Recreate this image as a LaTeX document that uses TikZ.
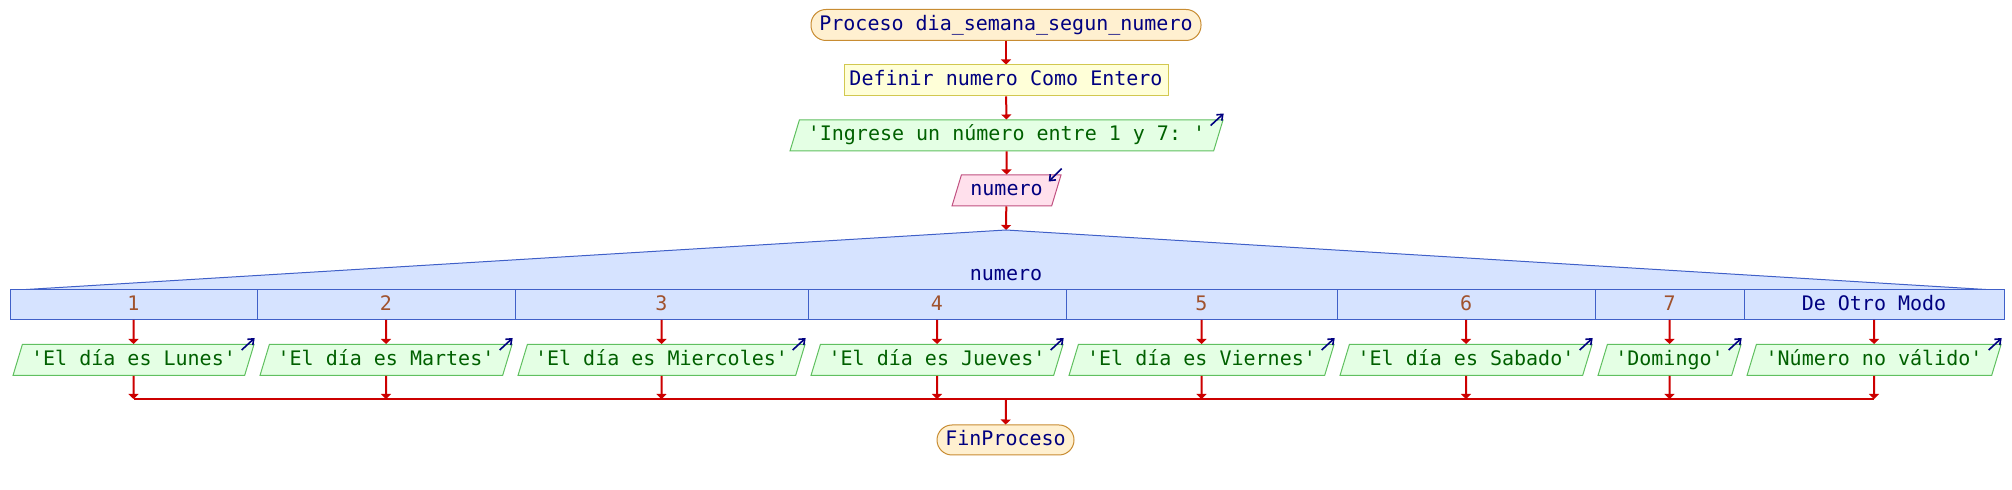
\documentclass[tikz,border=0pt]{standalone}
\usepackage{fontspec}
\setmonofont{DejaVu Sans Mono}
\usetikzlibrary{positioning,arrows.meta,shapes.geometric,calc}
\definecolor{flecha}{RGB}{204,0,0}
\definecolor{tinta}{RGB}{0,0,128}
\definecolor{procfondo}{RGB}{255,240,208}
\definecolor{procborde}{RGB}{200,140,50}
\definecolor{deffondo}{RGB}{255,255,216}
\definecolor{defborde}{RGB}{210,200,80}
\definecolor{salfondo}{RGB}{228,255,228}
\definecolor{salborde}{RGB}{96,192,96}
\definecolor{saltinta}{RGB}{0,96,0}
\definecolor{entfondo}{RGB}{255,224,236}
\definecolor{entborde}{RGB}{192,80,128}
\definecolor{segfondo}{RGB}{214,227,255}
\definecolor{segborde}{RGB}{64,96,200}
\definecolor{casotinta}{RGB}{160,82,45}

\begin{document}
\begin{tikzpicture}[x=0.5pt, y=-0.5pt, >={Triangle[length=2.5pt,width=5pt]},
    flujo/.style={->, flecha, line width=1pt},
    io/.style={-{Straight Barb[length=2.5pt,width=4pt]}, tinta, line width=0.8pt},
    texto/.style={font=\ttfamily, inner sep=1pt, text height=7.4pt, text depth=2.2pt,
        minimum height=15.5pt, line width=0.5pt},
    inicio/.style={texto, draw=procborde, fill=procfondo, text=tinta, rounded corners=7.5pt},
    definir/.style={texto, draw=defborde, fill=deffondo, text=tinta},
    paralelo/.style={texto, trapezium, trapezium left angle=68, trapezium right angle=112,
        trapezium stretches body},
    salida/.style={paralelo, draw=salborde, fill=salfondo, text=saltinta},
    entrada/.style={paralelo, draw=entborde, fill=entfondo, text=tinta},
    celda/.style={texto, draw=segborde, fill=segfondo, minimum height=15pt,
        inner sep=0pt, outer sep=0pt, line width=0.5pt}]

    \useasboundingbox (0,0) rectangle (2012,490);

    % ═══════════════════════════════════════════════════════════════════════════
    % INICIO Y LECTURA
    % ═══════════════════════════════════════════════════════════════════════════

    \node[inicio, minimum width=195pt] (ini) at (1006,25) {Proceso dia\_semana\_segun\_numero};
    \node[definir, minimum width=162pt] (def) at (1006,80.5) {Definir numero Como Entero};
    \node[salida, minimum width=216.5pt] (msg) at (1006.5,135.5) {'Ingrese un número entre 1 y 7: '};
    \node[entrada, minimum width=54.5pt] (leer) at (1006.5,190.5) {numero};
    \coordinate (cima) at (1006,230);

    \draw[flujo] (ini) -- (def);
    \draw[flujo] (def) -- (msg);
    \draw[flujo] (msg) -- (leer);
    \draw[flujo] (leer) -- (cima);

    \draw[io] ($(msg.top right corner)+(-13,6)$) -- ($(msg.top right corner)+(0,-6)$);
    \draw[io] ($(leer.top right corner)+(0,-6)$) -- ($(leer.top right corner)+(-13,7)$);

    % ═══════════════════════════════════════════════════════════════════════════
    % SEGUN
    % ═══════════════════════════════════════════════════════════════════════════

    \filldraw[fill=segfondo, draw=segborde, line width=0.5pt] (18,290) -- (cima) -- (1994,290);
    \node[texto, text=tinta] (sel) at (1006,275) {numero};

    \coordinate (union) at (1006,399);

    % columnas: centro / ancho / color / caso / mensaje
    \foreach \i/\xc/\w/\col/\caso/\txt in {
        1/133.5/247/casotinta/1/El día es Lunes,
        2/386/258/casotinta/2/El día es Martes,
        3/661.5/293/casotinta/3/El día es Miercoles,
        4/937/258/casotinta/4/El día es Jueves,
        5/1201.5/271/casotinta/5/El día es Viernes,
        6/1466/258/casotinta/6/El día es Sabado,
        7/1669.5/149/casotinta/7/Domingo,
        8/1874/260/tinta/De Otro Modo/Número no válido} {
        \node[celda, text=\col, minimum width=\w*0.5pt] (c\i) at (\xc,305) {\caso};
        \node[salida, minimum width=\w*0.5pt-3pt] (s\i) at (\xc,360) {'\txt'};
        \draw[flujo] (c\i) -- (s\i);
        \draw[io] ($(s\i.top right corner)+(-13,6)$) -- ($(s\i.top right corner)+(0,-6)$);
        \draw[flujo] (s\i) -- (s\i |- union);
    }

    % ═══════════════════════════════════════════════════════════════════════════
    % FIN
    % ═══════════════════════════════════════════════════════════════════════════

    \draw[flecha, line width=1pt] (s1 |- union) -- (s8 |- union);
    \node[inicio, minimum width=68.5pt, minimum height=15pt] (fin) at (1005.5,440) {FinProceso};
    \draw[flujo] (union) -- (fin);

\end{tikzpicture}
\end{document}
